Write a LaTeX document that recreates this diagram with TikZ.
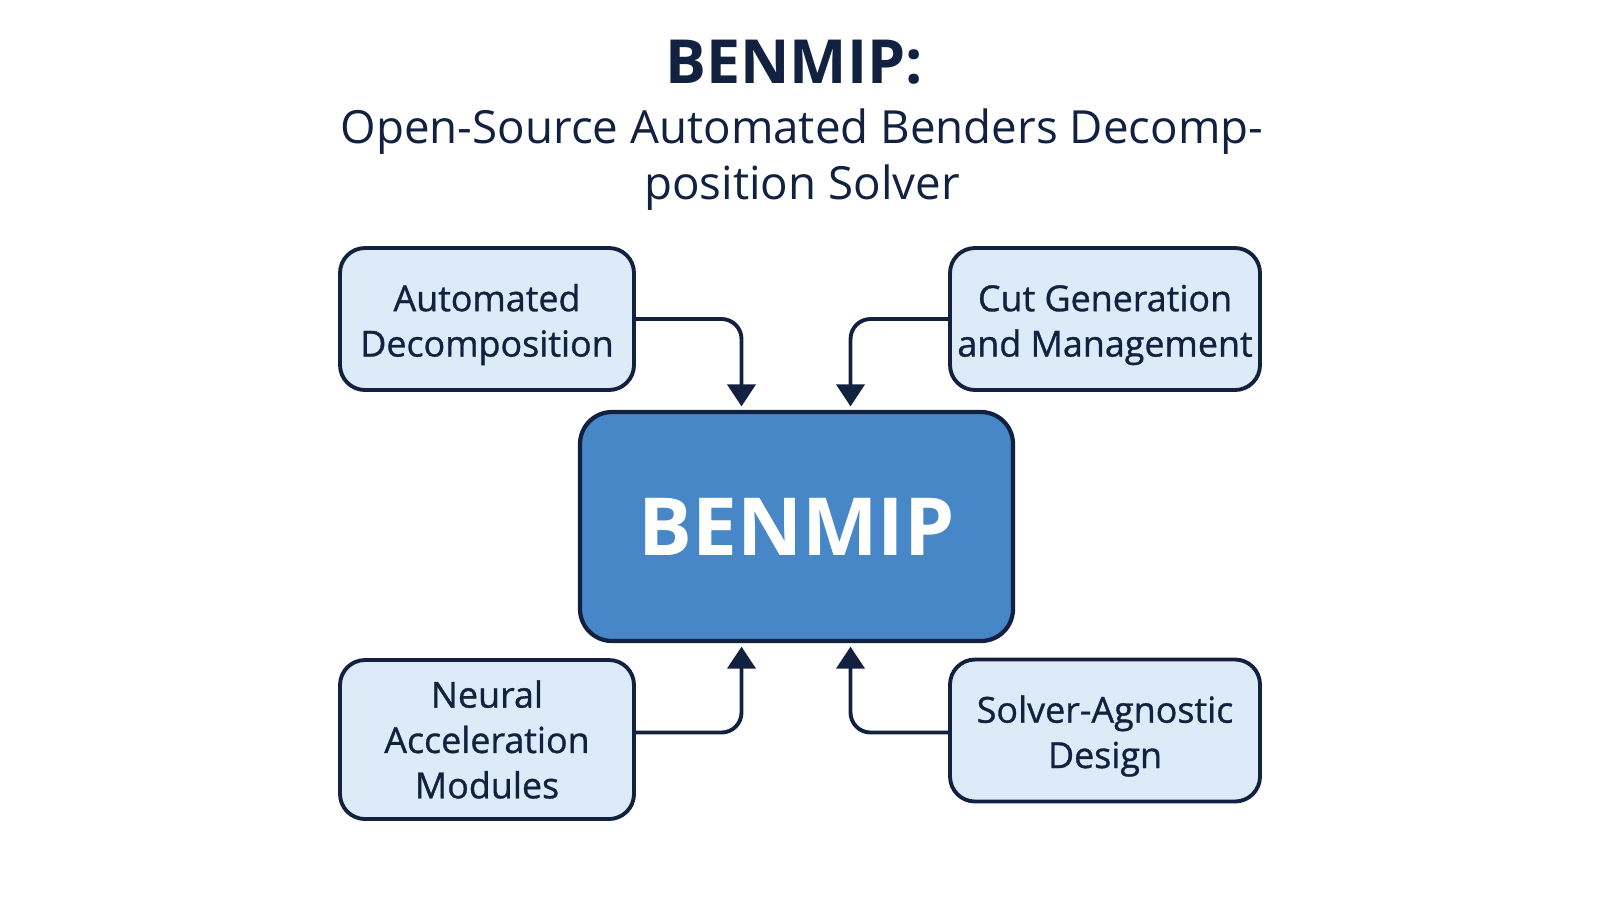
\documentclass[tikz,border=0pt]{standalone}
\usepackage{fontspec}
\setmainfont{Open Sans}
\newfontfamily\boxfont[FakeBold=0.9]{Open Sans}
\usetikzlibrary{arrows.meta}

\definecolor{navy}{HTML}{12213F}
\definecolor{paleblue}{HTML}{DDEBF8}
\definecolor{coreblue}{HTML}{4787C7}

\begin{document}
\begin{tikzpicture}[
        feature/.style={draw=navy, line width=1.1pt, fill=paleblue, rounded corners=0.25cm,
            minimum height=1.42cm, align=center, text=navy, inner xsep=2pt,
            font=\boxfont\fontsize{10.2}{12.9}\selectfont},
        lowered/.style={text height=23.8pt},
        core/.style={draw=navy, line width=1.2pt, fill=coreblue, rounded corners=0.32cm,
            minimum width=4.33cm, minimum height=2.29cm, text=white,
            font=\bfseries\fontsize{22.8}{26}\selectfont},
        link/.style={-{Triangle[width=0.28cm,length=0.22cm]}, line width=1.1pt, navy,
            rounded corners=0.2cm, shorten >=1pt},
        titletext/.style={text=navy, align=center}
    ]
        \useasboundingbox (0,0) rectangle (16,-9);

        % Title
        \node[titletext, font=\bfseries\fontsize{17.3}{20}\selectfont] (title) at (7.94, -0.62) {BENMIP:};
        \node[titletext, font=\fontsize{13}{15.9}\selectfont] (subtitle) at (8.02, -1.60)
            {Open-Source Automated Benders Decomp-\\position Solver};

        % Core and features
        \node[core] (benmip) at (7.965, -5.265) {BENMIP};
        \node[feature, lowered, minimum width=2.94cm] (autodec) at (4.87, -3.19) {Automated\\Decomposition};
        \node[feature, lowered, minimum width=3.10cm] (cutgen) at (11.05, -3.19) {Cut Generation\\and Management};
        \node[feature, minimum width=2.94cm, minimum height=1.59cm] (neural) at (4.87, -7.395) {Neural\\Acceleration\\Modules};
        \node[feature, lowered, minimum width=3.10cm] (agnostic) at (11.05, -7.305) {Solver-Agnostic\\Design};

        % Connectors
        \draw[link] (autodec.east) -| ([xshift=-0.55cm]benmip.north);
        \draw[link] (cutgen.west) -| ([xshift=0.54cm]benmip.north);
        \draw[link] ([yshift=0.07cm]neural.east) -| ([xshift=-0.55cm]benmip.south);
        \draw[link] ([yshift=-0.02cm]agnostic.west) -| ([xshift=0.54cm]benmip.south);
    \end{tikzpicture}
\end{document}
